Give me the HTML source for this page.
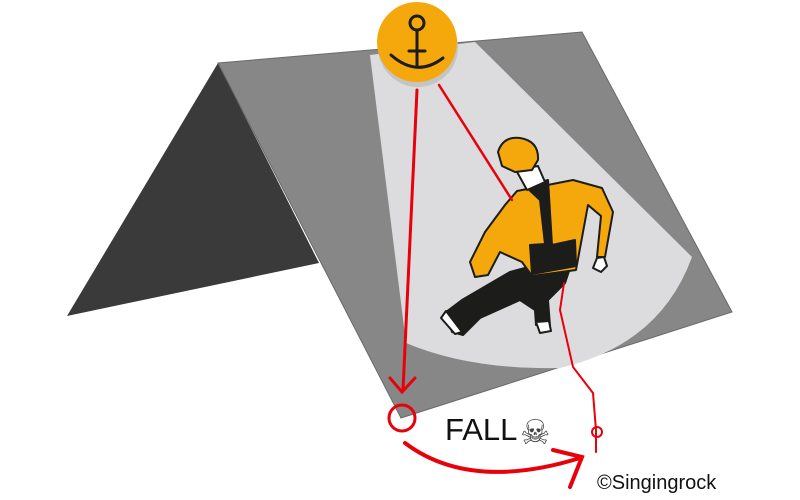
<!DOCTYPE html>
<html><head><meta charset="utf-8"><style>
html,body{margin:0;padding:0;background:#fff;width:800px;height:500px;overflow:hidden}
svg{display:block}
</style></head><body>
<svg width="800" height="500" viewBox="0 0 800 500" xmlns="http://www.w3.org/2000/svg">
<polygon points="67,316 218,63 319,263" fill="#3a3a3a"/>
<polygon points="218,63 582,32 732,312 401,418" fill="#878787" stroke="#6a6a6a" stroke-width="1"/>
<path d="M370,55 L475,42 L692,257 Q660,345 560,368 Q470,370 406,343 Z" fill="#dcdcde"/>
<!-- person -->
<g stroke="#1c1c1a" stroke-width="2" stroke-linejoin="round">
<path d="M547,262 L510,272 L462,300 L446,312 L452,332 L463,335 L480,318 L520,300 L535,310 L536,325 L550,326 L548,300 L565,283 L570,268 Z" fill="#1c1c1a"/>
<path d="M446,311 L441,318 L455,334 L462,332 Z" fill="#fff"/>
<path d="M536,322 L540,333 L551,331 L549,321 Z" fill="#fff"/>
<path d="M517,191 L573,180 L602,188 L613,212 L605,257 L597,257 L601,216 L588,205 L576,270 L532,276 L522,262 L500,252 L488,275 L475,277 L470,262 L485,232 L505,205 Z" fill="#f5a80b"/>
<path d="M525,186 L548,180 L552,245 L575,240 L576,266 L532,274 L530,245 L545,244 L540,200 Z" fill="#1c1c1a"/>
<path d="M597,258 L593,268 L601,272 L607,266 L604,257 Z" fill="#fff"/>
<path d="M516,170 L527,190 L545,182 L538,166 Z" fill="#fff"/>
<path d="M498,152 Q503,136 520,138 Q539,141 538,160 L532,170 L515,172 L502,166 Z" fill="#f5a80b"/>
</g>
<!-- ropes -->
<g stroke="#e8000b" fill="none" stroke-width="3" stroke-linecap="round">
<line x1="417" y1="90" x2="403" y2="390"/>
<polyline points="390,378 402,392 415,378"/>
<line x1="439" y1="85" x2="512" y2="200" stroke-width="2.5"/>
<polyline points="564,283 560,310 573,367 593,393 596,430 596,452" stroke-width="2"/>
<circle cx="597" cy="432" r="5" stroke-width="2"/>
<circle cx="402" cy="418" r="13"/>
<path d="M405,443 Q470,492 580,458" stroke-width="4"/>
<polyline points="553,450 582,457 570,487" stroke-width="4"/>
</g>
<!-- anchor -->
<circle cx="418" cy="47" r="40" fill="#c4c4c4"/>
<circle cx="417" cy="42" r="40" fill="#f5a80b"/>
<g stroke="#1c1c1a" stroke-width="3" fill="none" stroke-linecap="round">
<circle cx="417" cy="23" r="7"/>
<line x1="417" y1="30" x2="417" y2="66"/>
<line x1="409" y1="51" x2="425" y2="51"/>
<path d="M391,55 Q417,78 443,58"/>
</g>
<text x="445" y="440" font-family="Liberation Sans, sans-serif" font-size="31" fill="#111">FALL</text>
<text x="520" y="444" font-family="DejaVu Sans, sans-serif" font-size="34" fill="#444">☠</text>
<text x="597" y="489" font-family="Liberation Sans, sans-serif" font-size="20" fill="#111">©Singingrock</text>
</svg>
</body></html>
